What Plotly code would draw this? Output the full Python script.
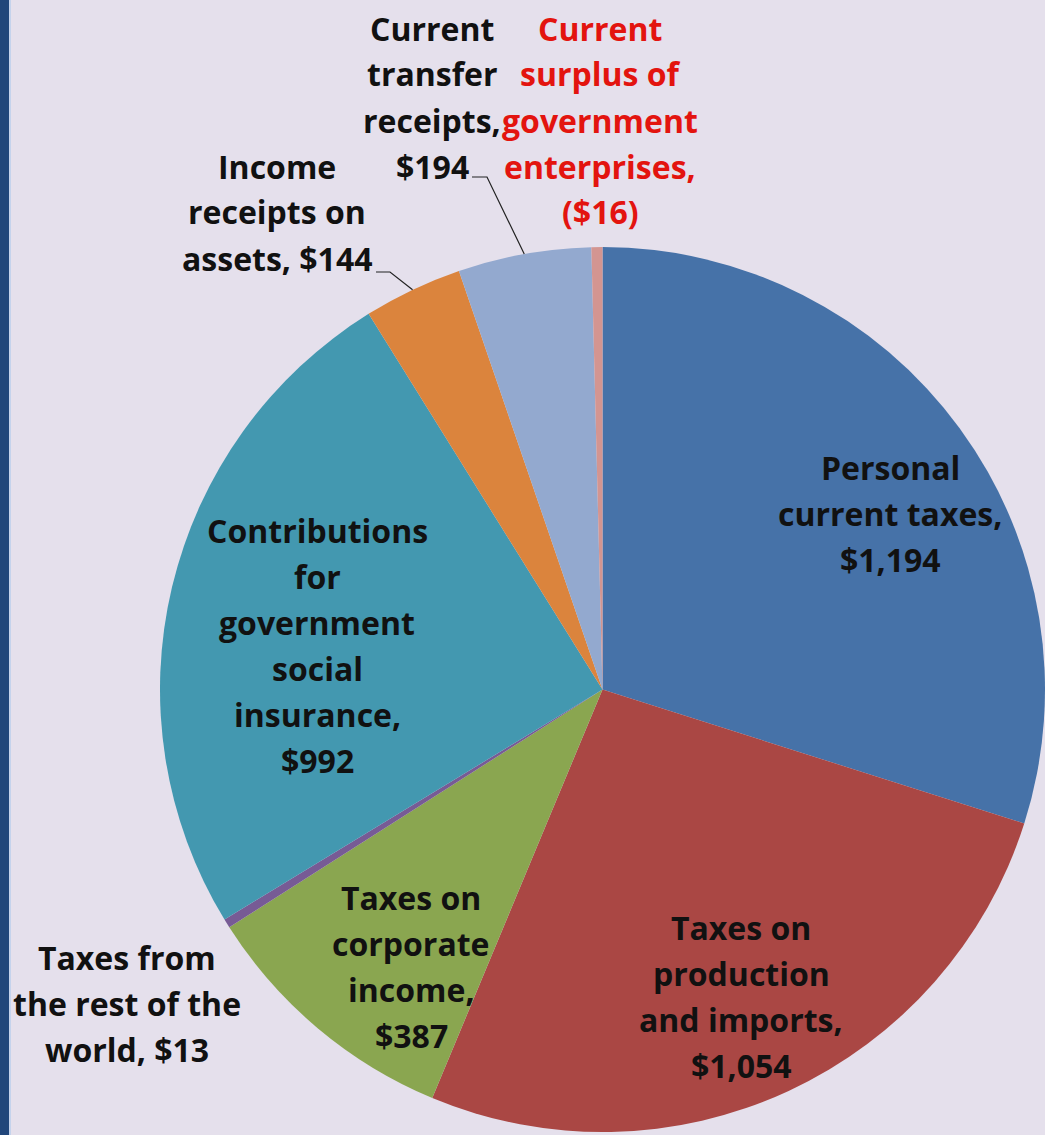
import math
import plotly.graph_objects as go

# Government current receipts, billions of dollars (clockwise from 12 o'clock)
categories = [
    "Personal current taxes",
    "Taxes on production and imports",
    "Taxes on corporate income",
    "Taxes from the rest of the world",
    "Contributions for government social insurance",
    "Income receipts on assets",
    "Current transfer receipts",
    "Current surplus of government enterprises",
]
values = [1194, 1054, 387, 13, 992, 144, 194, -16]

slice_colors = ["#4672A8", "#AA4744", "#8AA650", "#775B95",
                "#4398B0", "#DB843D", "#93A9CF", "#D39591"]

# Label text broken into lines; the value is appended as the last piece
wrapped = [
    ["Personal", "current taxes,"],
    ["Taxes on", "production", "and imports,"],
    ["Taxes on", "corporate", "income,"],
    ["Taxes from", "the rest of the", "world,"],
    ["Contributions", "for", "government", "social", "insurance,"],
    ["Income", "receipts on", "assets,"],
    ["Current", "transfer", "receipts,"],
    ["Current", "surplus of", "government", "enterprises,"],
]
# whether the value goes on its own line
value_own_line = [True, True, True, False, True, False, True, True]

W, H = 1045, 1135
BG = "#E5E0EC"
FONT = "Open Sans, sans-serif"
FONT_SIZE = 32
LINE_STEP = 46

dom_x = [0.1531, 1.0]
dom_y = [0.0026, 0.7824]


def money(v):
    s = "${:,}".format(abs(v))
    return "({})".format(s) if v < 0 else s


sizes = [abs(v) for v in values]

fig = go.Figure(go.Pie(
    labels=categories,
    values=sizes,
    sort=False,
    direction="clockwise",
    rotation=0,
    marker=dict(colors=slice_colors, line=dict(width=0)),
    textinfo="none",
    hoverinfo="label+value",
    showlegend=False,
    domain=dict(x=dom_x, y=dom_y),
))

# label placement in pixels: centre x, first-line y (from top), colour
label_pos = [
    (890, 467, "#111111"),
    (741, 927, "#111111"),
    (411, 897, "#111111"),
    (127, 957, "#111111"),
    (317, 530, "#111111"),
    (277, 166, "#111111"),
    (432, 28, "#111111"),
    (600, 28, "#E3140F"),
]

annotations = []
for lines, own, v, (px, py, col) in zip(wrapped, value_own_line, values, label_pos):
    lines = list(lines)
    if own:
        lines.append(money(v))
    else:
        lines[-1] = lines[-1] + " " + money(v)
    for k, line in enumerate(lines):
        annotations.append(dict(
            x=px / W, y=1 - (py + k * LINE_STEP) / H,
            xref="paper", yref="paper",
            text="<b>" + line + "</b>", showarrow=False,
            xanchor="center", yanchor="middle", align="center",
            font=dict(family=FONT, size=FONT_SIZE, color=col),
        ))

# pie geometry, used for the leader lines
cx = W * (dom_x[0] + dom_x[1]) / 2
cy = H * (1 - (dom_y[0] + dom_y[1]) / 2)
r = min(W * (dom_x[1] - dom_x[0]), H * (dom_y[1] - dom_y[0])) / 2
total = sum(sizes)


def edge_point(i):
    before = sum(sizes[:i])
    theta = 2 * math.pi * (before + sizes[i] / 2) / total
    return cx + r * math.sin(theta), cy - r * math.cos(theta)


def p(x, y):
    return "{:.5f} {:.5f}".format(x / W, 1 - y / H)


shapes = [
    dict(type="rect", xref="paper", yref="paper", x0=0, x1=9 / W, y0=0, y1=1,
         fillcolor="#21467A", line=dict(width=0), layer="above"),
    dict(type="rect", xref="paper", yref="paper", x0=9 / W, x1=11 / W, y0=0, y1=1,
         fillcolor="#C5D3EC", line=dict(width=0), layer="above"),
]

# leader lines: short horizontal tick then a line to the slice edge
leaders = [(6, 472, 487, 177), (5, 376, 390, 272)]
for idx, xs, xe, yl in leaders:
    ex, ey = edge_point(idx)
    shapes.append(dict(
        type="path", xref="paper", yref="paper",
        path="M {} L {} L {}".format(p(xs, yl), p(xe, yl), p(ex, ey)),
        line=dict(color="#222222", width=1.2),
    ))

fig.update_layout(
    width=W, height=H,
    margin=dict(l=0, r=0, t=0, b=0),
    paper_bgcolor=BG, plot_bgcolor=BG,
    annotations=annotations,
    shapes=shapes,
)

fig.write_html("out.html")
